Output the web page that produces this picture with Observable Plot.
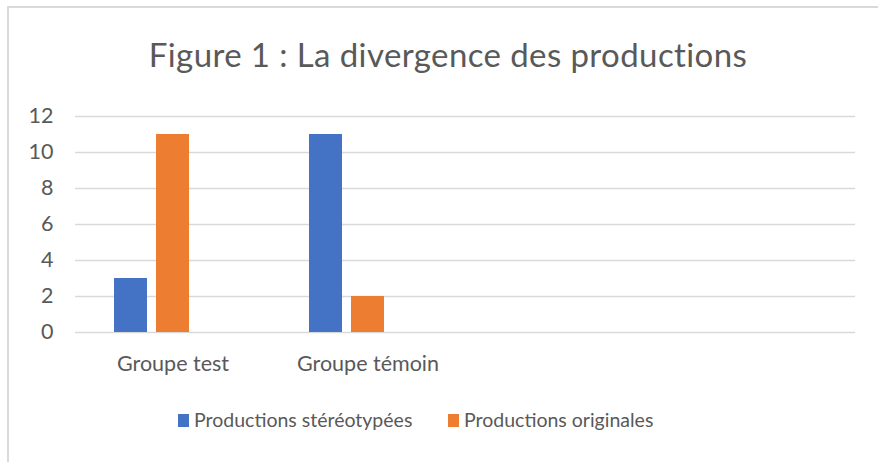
<!DOCTYPE html>
<html><head><meta charset="utf-8">
<script src="https://cdn.jsdelivr.net/npm/d3@7"></script>
<script src="https://cdn.jsdelivr.net/npm/@observablehq/plot@0.6"></script>
<style>
body{margin:0;background:#fff;font-family:Lato,"Open Sans",sans-serif;color:#595959}
#frame{margin-left:7px;margin-top:6px;border-left:2px solid #d9d9d9;border-top:2px solid #d9d9d9;width:869px;height:454px;overflow:hidden}
#title{height:82px;box-sizing:border-box;padding-top:30px;padding-left:9px;text-align:center;font-size:33px;line-height:33px;letter-spacing:0.4px;white-space:nowrap}
#chart svg{display:block}
#legend{height:60px;box-sizing:border-box;padding-top:18px;padding-left:169px;display:flex;align-items:flex-start;font-size:19.5px;line-height:24px}
.item{display:flex;align-items:center;height:24px}
.sw{width:11px;height:13px;margin-right:5px;flex:none}
</style>
</head><body>
<div id="frame">
  <div id="title"></div>
  <div id="chart"></div>
  <div id="legend"></div>
</div>
<script>
const titleText = "Figure 1 : La divergence des productions";
const categories = ["Groupe test", "Groupe témoin"];
const slotCount = 4; // the category axis has two further, empty slots
const seriesNames = ["Productions stéréotypées", "Productions originales"];
const emptySeries = "Série 3";
const stereotypees = [3, 11];
const originales = [11, 2];
const seriesColors = ["#4472C4", "#ED7D31"];
const yTicks = [0, 2, 4, 6, 8, 10, 12];

document.getElementById("title").textContent = titleText;

const data = categories.flatMap((c, i) => [
  {cat: i, series: seriesNames[0], value: stereotypees[i]},
  {cat: i, series: seriesNames[1], value: originales[i]}
]);
const slots = d3.range(slotCount);
// gridlines drawn in every category slot, so that the empty slots are kept
const grid = slots.flatMap(s => yTicks.map(t => ({cat: s, tick: t})));
const catLabel = i => categories[i] ?? "";

const chart = Plot.plot({
  width: 869,
  height: 300,
  marginLeft: 64,
  marginRight: 22,
  marginTop: 26,
  marginBottom: 58,
  style: {fontFamily: "Lato, 'Open Sans', sans-serif", fontSize: "21.5px", color: "#595959", background: "white"},
  fx: {domain: slots, padding: 0, label: null, axis: null},
  x: {domain: [...seriesNames, emptySeries], paddingInner: 0.21, paddingOuter: 0.88, axis: null},
  y: {domain: [0, 12], axis: null},
  color: {domain: seriesNames, range: seriesColors},
  marks: [
    Plot.ruleY(grid, {fx: "cat", y: "tick", stroke: "#d9d9d9", strokeWidth: 1.4}),
    Plot.barY(data, {fx: "cat", x: "series", y: "value", fill: "series"}),
    Plot.axisY(yTicks, {tickSize: 0, tickPadding: 22, label: null, fontSize: 21.5, fill: "#595959"}),
    Plot.axisFx({anchor: "bottom", tickSize: 0, tickPadding: 23, label: null, fontSize: 21.5, fill: "#595959", tickFormat: catLabel})
  ]
});
document.getElementById("chart").append(chart);

const legend = document.getElementById("legend");
seriesNames.forEach((name, i) => {
  const item = document.createElement("div");
  item.className = "item";
  if (i === 0) item.style.width = "270px";
  const sw = document.createElement("span");
  sw.className = "sw";
  sw.style.background = seriesColors[i];
  const label = document.createElement("span");
  label.textContent = name;
  item.append(sw, label);
  legend.append(item);
});
</script>
</body></html>
